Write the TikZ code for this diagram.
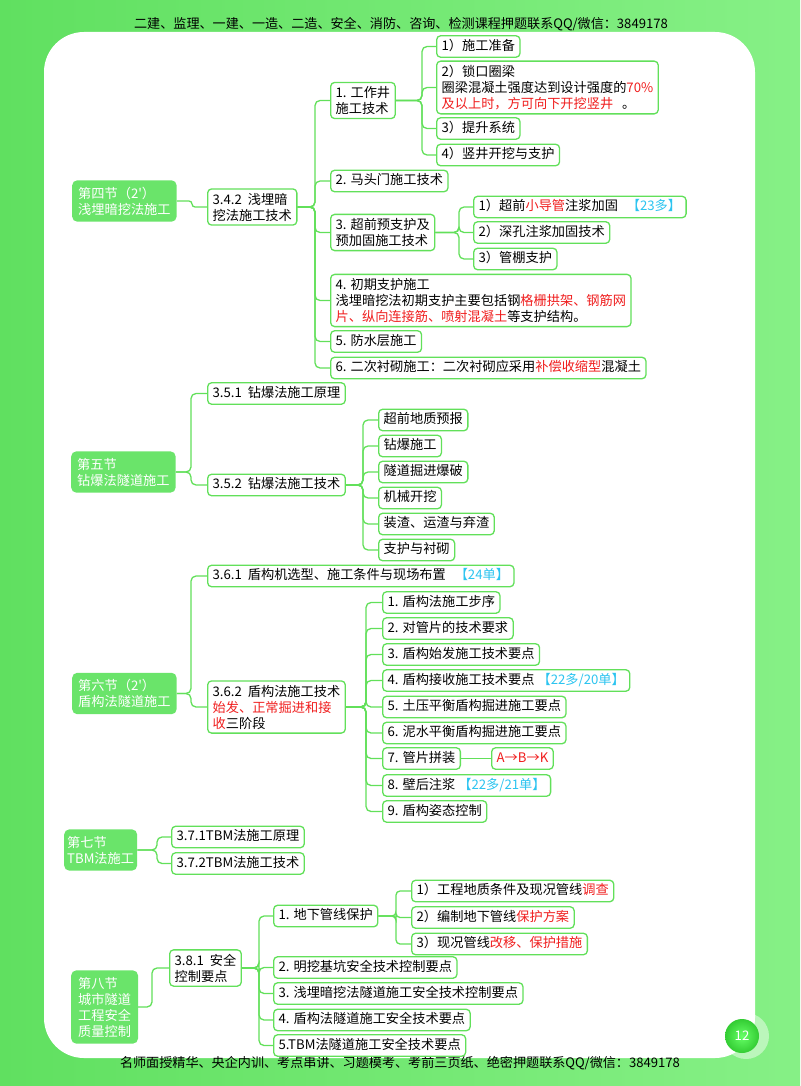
\documentclass[tikz,border=0pt]{standalone}
\usepackage{fontspec}
\setmainfont{Noto Sans CJK SC}[Ligatures=TeXOff]
\usepackage{xcolor}
\usepackage{tikz}
\usetikzlibrary{positioning,calc}

\definecolor{linegreen}{HTML}{62E05A}
\definecolor{secgreen}{HTML}{6AE46A}
\definecolor{bgleft}{HTML}{60E060}
\definecolor{bgright}{HTML}{86F086}
\definecolor{hotred}{HTML}{F01E1E}
\definecolor{skyblue}{HTML}{2CC4F0}
\newcommand{\rtxt}[1]{\textcolor{hotred}{#1}}
\newcommand{\btxt}[1]{\textcolor{skyblue}{#1}}

\begin{document}
\begin{tikzpicture}[x=1pt,y=-1pt,
    font=\fontsize{13.2}{16}\selectfont,
    box/.style={draw=linegreen, line width=1.3pt, rounded corners=4pt, fill=white,
        anchor=west, align=left, inner xsep=5pt, inner ysep=4pt,
        text height=10.5pt, text depth=3pt},
    multi/.style={text height=, text depth=},
    sec/.style={fill=secgreen, text=white, rounded corners=5pt, anchor=west,
        align=left, inner xsep=6pt, inner ysep=6.5pt},
    link/.style={draw=linegreen, line width=1.3pt, rounded corners=5pt}]
    \useasboundingbox (0,0) rectangle (800,1086);
    % page
    \fill[left color=bgleft, right color=bgright] (0,0) rectangle (800,1086);
    \fill[white, rounded corners=40pt] (44,32) rectangle (755,1058);
    \node (head) at (401,24) {\fontsize{13.1}{15}\selectfont 二建、监理、一建、一造、二造、安全、消防、咨询、检测课程押题联系QQ/微信：3849178};
    \node (foot) at (400,1063) {\fontsize{13.1}{15}\selectfont 名师面授精华、央企内训、考点串讲、习题模考、考前三页纸、绝密押题联系QQ/微信：3849178};
    \fill[white, opacity=0.45] (746,1036) circle (23);
    \shade[inner color=green!60!white, outer color=green!75!black!80] (742,1036) circle (17);
    \node[text=white] (pnum) at (742,1036) {12};

    % trunks
    \coordinate (t4) at (192,0);
    \coordinate (t342) at (315,0);
    \coordinate (tc1) at (422,0);
    \coordinate (tc3) at (459,0);
    \coordinate (t5) at (191,0);
    \coordinate (t352) at (363,0);
    \coordinate (t6) at (191,0);
    \coordinate (t362) at (366,0);
    \coordinate (t7) at (157,0);
    \coordinate (t8) at (152,0);
    \coordinate (t381) at (259,0);
    \coordinate (tg1) at (396,0);

    % sections
    \node[sec] (s4) at (72,201) {第四节（2'）\\浅埋暗挖法施工};
    \node[sec] (s5) at (71,472) {第五节\\钻爆法隧道施工};
    \node[sec] (s6) at (72,693.5) {第六节（2'）\\盾构法隧道施工};
    \node[sec, inner xsep=3pt] (s7) at (64,850) {第七节\\TBM法施工};
    \node[sec, inner xsep=7pt] (s8) at (71,1007) {第八节\\城市隧道\\工程安全\\质量控制};

    % 3.4.2
    \node[box, multi] (b342) at (207,207) {3.4.2~~浅埋暗\\挖法施工技术};
    \node[box, multi] (c1) at (330,100.5) {1. 工作井\\施工技术};
    \node[box] (c2) at (330,181) {2. 马头门施工技术};
    \node[box, multi] (c3) at (330,232.5) {3. 超前预支护及\\预加固施工技术};
    \node[box, multi] (c4) at (330,300.5) {4. 初期支护施工\\浅埋暗挖法初期支护主要包括钢\rtxt{格栅拱架、钢筋网}\\\rtxt{片、纵向连接筋、喷射混凝土}等支护结构。};
    \node[box] (c5) at (330,341.5) {5. 防水层施工};
    \node[box] (c6) at (330,368) {6. 二次衬砌施工：二次衬砌应采用\rtxt{补偿收缩型}混凝土};

    \node[box] (d1) at (436,46.5) {1）施工准备};
    \node[box, multi] (d2) at (436,87.5) {2）锁口圈梁\\圈梁混凝土强度达到设计强度的\rtxt{70\%}\\\rtxt{及以上时，方可向下开挖竖井}~~~。};
    \node[box] (d3) at (436,128.5) {3）提升系统};
    \node[box] (d4) at (436,155) {4）竖井开挖与支护};

    \node[box] (e1) at (473,207) {1）超前\rtxt{小导管}注浆加固~~~\btxt{【23多】}};
    \node[box] (e2) at (473,232.5) {2）深孔注浆加固技术};
    \node[box] (e3) at (473,259) {3）管棚支护};

    % 3.5
    \node[box] (b351) at (207,393.5) {3.5.1~~钻爆法施工原理};
    \node[box] (b352) at (207,485) {3.5.2~~钻爆法施工技术};
    \foreach \i/\y/\t in {1/420/超前地质预报, 2/446/钻爆施工, 3/472/隧道掘进爆破,
        4/498/机械开挖, 5/524/装渣、运渣与弃渣, 6/550/支护与衬砌}
        \node[box] (f\i) at (378,\y) {\t};

    % 3.6
    \node[box] (b361) at (207,576) {3.6.1~~盾构机选型、施工条件与现场布置~~~\btxt{【24单】}};
    \node[box, multi] (b362) at (207,707) {3.6.2~~盾构法施工技术\\\rtxt{始发、正常掘进和接}\\\rtxt{收}三阶段};
    \foreach \i/\y/\t in {1/602.5/{1. 盾构法施工步序}, 2/628.5/{2. 对管片的技术要求},
        3/654.5/{3. 盾构始发施工技术要点}, 4/680.5/{4. 盾构接收施工技术要点~\btxt{【22多/20单】}},
        5/707/{5. 土压平衡盾构掘进施工要点}, 6/733/{6. 泥水平衡盾构掘进施工要点},
        7/758.5/{7. 管片拼装}, 8/785.5/{8. 壁后注浆~\btxt{【22多/21单】}}, 9/811.5/{9. 盾构姿态控制}}
        \node[box] (k\i) at (382,\y) {\t};
    \node[box] (abk) at (491,758.5) {\rtxt{A→B→K}};

    % 3.7
    \node[box] (b371) at (171,837) {3.7.1TBM法施工原理};
    \node[box] (b372) at (171,863.5) {3.7.2TBM法施工技术};

    % 3.8
    \node[box, multi] (b381) at (169,968) {3.8.1~~安全\\控制要点};
    \foreach \i/\y/\t in {1/916/{1. 地下管线保护}, 2/967.5/{2. 明挖基坑安全技术控制要点},
        3/993.5/{3. 浅埋暗挖法隧道施工安全技术控制要点}, 4/1020/{4. 盾构法隧道施工安全技术要点},
        5/1045.5/{5.TBM法隧道施工安全技术要点}}
        \node[box] (g\i) at (273,\y) {\t};
    \node[box] (h1) at (411,891) {1）工程地质条件及现况管线\rtxt{调查}};
    \node[box] (h2) at (411,917.5) {2）编制地下管线\rtxt{保护方案}};
    \node[box] (h3) at (411,944) {3）现况管线\rtxt{改移、保护措施}};

    % connectors
    \draw[link, rounded corners=3pt] (s4.east) -- (s4.east -| t4) |- (b342.west);
    \foreach \i in {1,...,6}
        \draw[link] (b342.east) -- (b342.east -| t342) |- (c\i.west);
    \foreach \i in {1,...,4}
        \draw[link] (c1.east) -- (c1.east -| tc1) |- (d\i.west);
    \foreach \i in {1,...,3}
        \draw[link] (c3.east) -- (c3.east -| tc3) |- (e\i.west);
    \foreach \n in {b351,b352}
        \draw[link] (s5.east) -- (s5.east -| t5) |- (\n.west);
    \foreach \i in {1,...,6}
        \draw[link] (b352.east) -- (b352.east -| t352) |- (f\i.west);
    \foreach \n in {b361,b362}
        \draw[link] (s6.east) -- (s6.east -| t6) |- (\n.west);
    \foreach \i in {1,...,9}
        \draw[link] (b362.east) -- (b362.east -| t362) |- (k\i.west);
    \draw[link] (k7.east) -- (abk.west);
    \foreach \n in {b371,b372}
        \draw[link] (s7.east) -- (s7.east -| t7) |- (\n.west);
    \draw[link] (s8.east) -- (s8.east -| t8) |- (b381.west);
    \foreach \i in {1,...,5}
        \draw[link] (b381.east) -- (b381.east -| t381) |- (g\i.west);
    \foreach \i in {1,...,3}
        \draw[link, rounded corners=4pt] (g1.east) -- (g1.east -| tg1) |- (h\i.west);
\end{tikzpicture}
\end{document}
